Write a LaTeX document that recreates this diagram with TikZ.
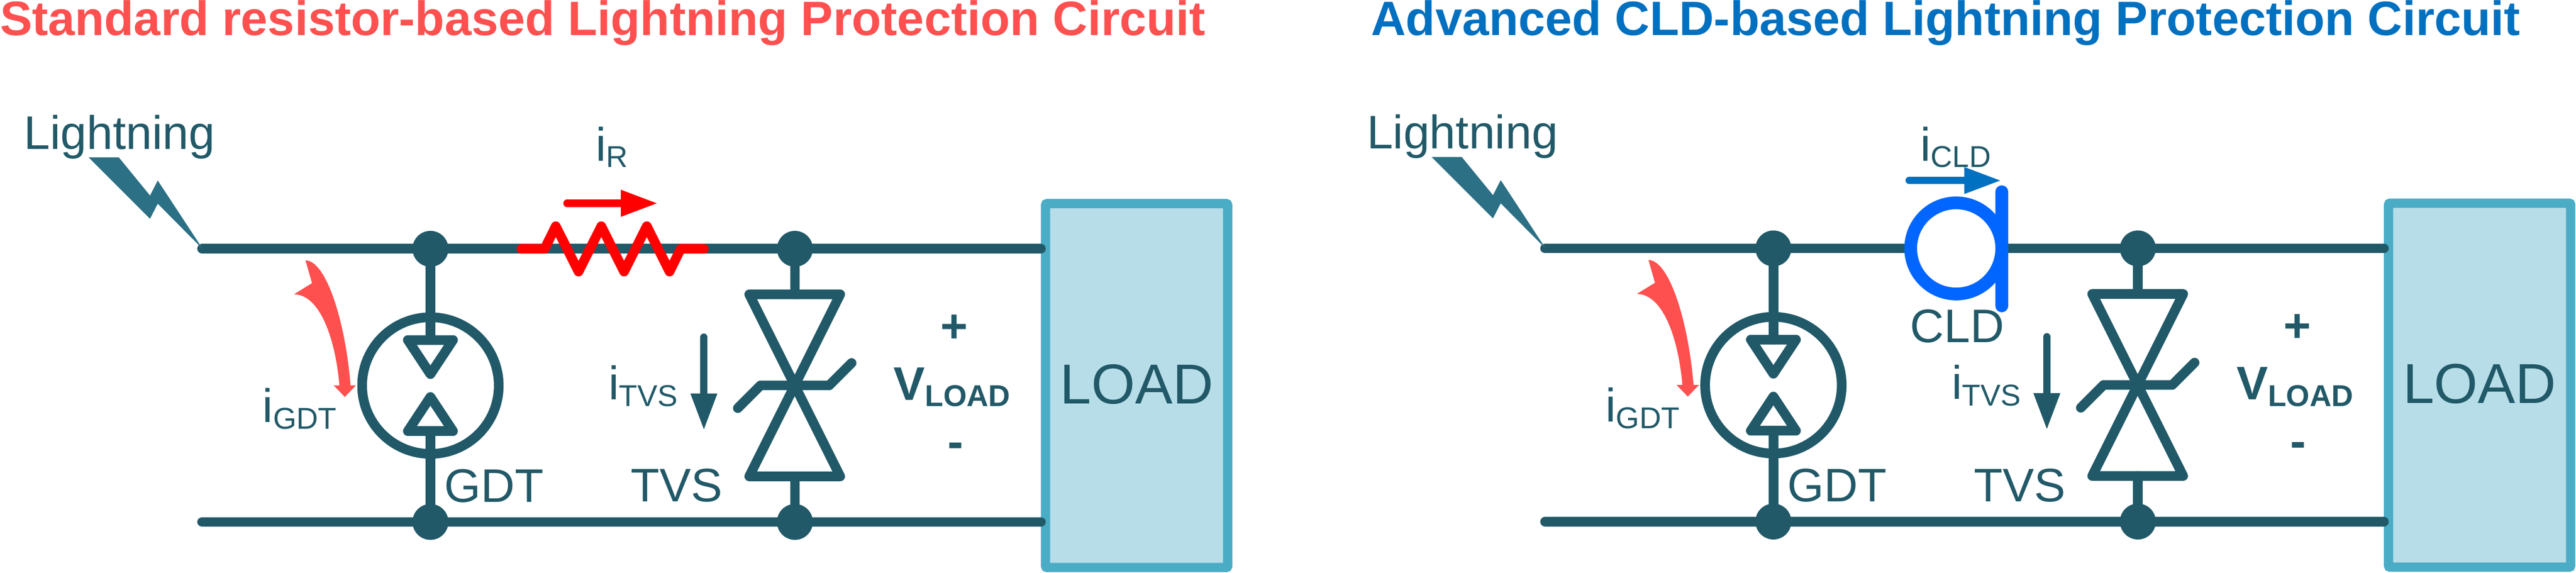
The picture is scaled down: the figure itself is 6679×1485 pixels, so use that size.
\documentclass[tikz,border=0pt]{standalone}
\usepackage{fontspec}
\setmainfont{Liberation Sans}
\usetikzlibrary{arrows.meta}
\definecolor{wirecol}{HTML}{215968}
\definecolor{boltcol}{HTML}{2B7085}
\definecolor{loadline}{HTML}{4BACC6}
\definecolor{loadfill}{HTML}{B7DDE8}
\definecolor{warmred}{HTML}{FF5050}
\definecolor{titleblue}{HTML}{0070C0}
\definecolor{cldblue}{HTML}{0066FF}
\newcommand\mainsize{\fontsize{34.7pt}{40pt}\selectfont}
\newcommand\subsize{\fontsize{22.2pt}{26pt}\selectfont}
\newcommand\subtext[1]{\raisebox{-4.8pt}{\subsize #1}}
\tikzset{
  x=0.01cm,y=-0.01cm,
  wire/.style={draw=wirecol,line width=0.25cm,line join=round,line cap=round},
  dotnode/.style={circle,fill=wirecol,minimum size=0.93cm,inner sep=0pt,outer sep=0pt},
  tubenode/.style={circle,draw=wirecol,line width=0.25cm,minimum size=3.54cm,inner sep=0pt,fill=white},
  loadbox/.style={rectangle,draw=loadline,fill=loadfill,line width=0.24cm,rounded corners=0.04cm,minimum width=4.72cm,minimum height=9.43cm,inner sep=0pt,text=wirecol,font=\fontsize{41.5pt}{46pt}\selectfont},
  label/.style={anchor=base west,inner sep=0pt,outer sep=0pt,text=wirecol,font=\mainsize},
  boldlabel/.style={anchor=base,inner sep=0pt,outer sep=0pt,text=wirecol,font=\mainsize\bfseries},
  titletext/.style={anchor=base west,inner sep=0pt,outer sep=0pt,font=\fontsize{35.55pt}{40pt}\selectfont\bfseries},
  currentarrow/.style={line width=0.19cm,line cap=round,-{Triangle[length=0.96cm,width=0.64cm]}},
}
\newcommand\commonparts{%
  \coordinate (start) at (524,645);
  \node[dotnode] (gdtTop) at (1116,645) {};
  \node[dotnode] (gdtBot) at (1116,1353) {};
  \node[dotnode] (tvsTop) at (2061,645) {};
  \node[dotnode] (tvsBot) at (2061,1353) {};
  \coordinate (startB) at (524,1353);
  \node[loadbox] (load) at (2947,999.5) {\raisebox{2.3pt}{LOAD}};
  \draw[wire] (start) -- (gdtTop) -- (tvsTop) -- (load.west |- tvsTop);
  \draw[wire] (startB) -- (gdtBot) -- (tvsBot) -- (load.west |- tvsBot);
  % lightning
  \fill[boltcol] (230,408) -- (308,408) -- (389,507) -- (409,468) -- (526,646) -- (409,528) -- (389,567) -- cycle;
  \node[label] (lightning) at (62,387) {Lightning};
  % GDT
  \node[tubenode] (gdt) at (1116,999.5) {};
  \coordinate (gdtA) at (1116,881.5);
  \coordinate (gdtB) at (1116,1117.5);
  \draw[wire] (gdtTop) -- (gdtA);
  \draw[wire] (gdtBot) -- (gdtB);
  \draw[wire] (1057.5,881.5) -- (1174.5,881.5) -- (1116,970) -- cycle;
  \draw[wire] (1057.5,1117.5) -- (1174.5,1117.5) -- (1116,1029) -- cycle;
  \fill[warmred] (792,675) .. controls (845,675) and (895,830) .. (909,999)
     -- (923,999) -- (894,1029) -- (865,999) -- (880,999)
     .. controls (870,880) and (830,763) .. (762,763) -- (809,734) -- cycle;
  \node[label] (igdt) at (681,1095) {i\subtext{GDT}};
  \node[label] (gdtlabel) at (1152,1302) {GDT};
  % TVS
  \coordinate (tvsA) at (2061,763);
  \coordinate (tvsB) at (2061,1235);
  \draw[wire] (tvsTop) -- (tvsA);
  \draw[wire] (tvsBot) -- (tvsB);
  \draw[wire] (1942.5,763) -- (2178.5,763) -- (1942.5,1235) -- (2178.5,1235) -- cycle;
  \draw[wire] (1913,1058) -- (1972,999) -- (2150,999) -- (2208,941);
  \coordinate (itvsA) at (1825,874);
  \coordinate (itvsB) at (1825,1116);
  \draw[currentarrow,draw=wirecol,fill=wirecol] (itvsA) -- (itvsB);
  \node[label] (itvs) at (1578,1036) {i\subtext{TVS}};
  \node[label] (tvslabel) at (1636,1301) {TVS};
  % load voltage
  \node[boldlabel] (plus) at (2474,887) {+};
  \node[label,font=\mainsize\bfseries] (vload) at (2317,1037) {V\subtext{\bfseries LOAD}};
  \node[boldlabel] (minus) at (2477,1187) {-};
}
\begin{document}
\begin{tikzpicture}
\useasboundingbox (0,0) rectangle (6679,1485);
\node[titletext,text=warmred] (titleL) at (0,92) {Standard resistor-based Lightning Protection Circuit};
\node[titletext,text=titleblue] (titleR) at (3555,92) {Advanced CLD-based Lightning Protection Circuit};
\begin{scope}[name prefix=L-]
  \commonparts
  % resistor
  \coordinate (resA) at (1352,645);
  \coordinate (resB) at (1825,645);
  \draw[draw=red,line width=0.25cm,line join=round,line cap=round]
    (resA) -- (1412,645) -- (1441,586.5) -- (1500,704) -- (1559,586.5) -- (1618,704) -- (1677,586.5) -- (1736,704) -- (1765,645) -- (resB);
  \coordinate (irA) at (1470,527);
  \coordinate (irB) at (1706,527);
  \draw[currentarrow,draw=red,fill=red] (irA) -- (irB);
  \node[label] (ir) at (1545,417) {i\subtext{R}};
\end{scope}
\begin{scope}[shift={(3482,-1)},name prefix=R-]
  \commonparts
\end{scope}
\begin{scope}[name prefix=R-]
  % CLD
  \node[circle,draw=cldblue,line width=0.33cm,fill=white,minimum size=2.36cm,inner sep=0pt] (cld) at (5072,644) {};
  \coordinate (cldA) at (5190,497);
  \coordinate (cldB) at (5190,793);
  \draw[draw=cldblue,line width=0.33cm,line cap=round] (cldA) -- (cldB);
  \coordinate (icldA) at (4950,468);
  \coordinate (icldB) at (5189,468);
  \draw[currentarrow,draw=titleblue,fill=titleblue] (icldA) -- (icldB);
  \node[label] (icld) at (4979,417) {i\subtext{CLD}};
  \node[label] (cldlabel) at (4953,888) {CLD};
\end{scope}
\end{tikzpicture}
\end{document}
